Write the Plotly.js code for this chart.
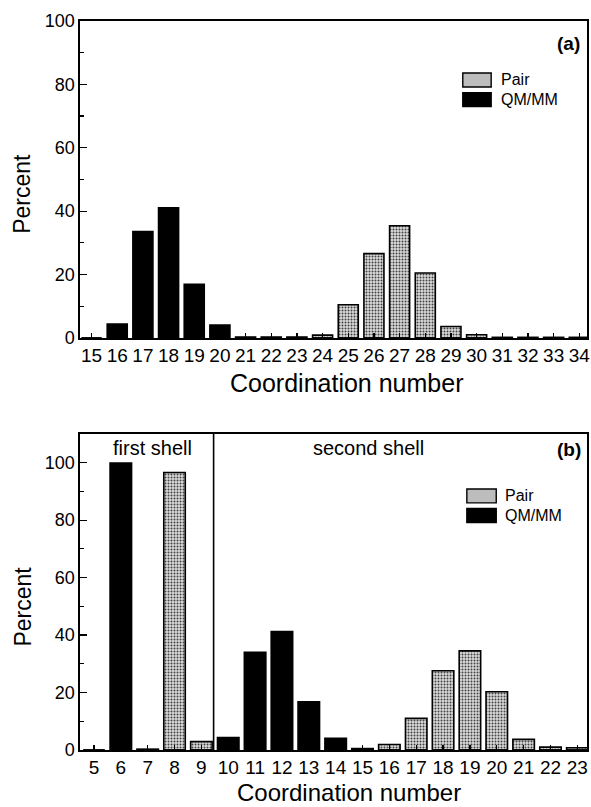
<!DOCTYPE html>
<html>
<head>
<meta charset="utf-8">
<script src="https://cdn.plot.ly/plotly-3.0.1.min.js"></script>
<style>html,body{margin:0;padding:0;background:#fff}#chart{width:591px;height:807px}</style>
</head>
<body>
<div id="chart"></div>
<script>
// Panel (a)
const coordA = [15,16,17,18,19,20,21,22,23,24,25,26,27,28,29,30,31,32,33,34];
const pairA  = [0,0,0,0,0,0,0,0,0,0.9,10.5,26.6,35.4,20.5,3.6,1.0,0.2,0.2,0.2,0.2];
const qmA    = [0,4.4,33.6,41.1,16.9,4.1,0.3,0.3,0.3,0,0,0,0,0,0,0,0,0,0,0];
// Panel (b)
const coordB = [5,6,7,8,9,10,11,12,13,14,15,16,17,18,19,20,21,22,23];
const pairB  = [0,0,0,96.6,2.9,0,0,0,0,0,0,1.9,11.0,27.6,34.5,20.3,3.7,1.0,0.8];
const qmB    = [0,99.9,0.3,0,0,4.3,34.0,41.2,16.8,4.1,0.5,0,0,0,0,0,0,0,0];
const tickA = coordA.map(String);
const tickB = coordB.map(String);
const yTicks = [0,20,40,60,80,100];

const FONT = 'Liberation Sans, Arial, Helvetica, sans-serif';
const grayPattern = {shape: '.', fgcolor: '#404040', bgcolor: '#dcdcdc', size: 3, solidity: 0.35};
const barLine = {color: '#000', width: 1.6};

const traces = [
  {type:'bar', x: coordA, y: pairA, xaxis:'x', yaxis:'y', width:0.78, name:'Pair',
   marker:{color:'#d4d4d4', pattern: grayPattern, line: barLine}},
  {type:'bar', x: coordA, y: qmA, xaxis:'x', yaxis:'y', width:0.78, name:'QM/MM',
   marker:{color:'#000', line: barLine}},
  {type:'bar', x: coordB, y: pairB, xaxis:'x2', yaxis:'y2', width:0.8, name:'Pair',
   marker:{color:'#d4d4d4', pattern: grayPattern, line: barLine}},
  {type:'bar', x: coordB, y: qmB, xaxis:'x2', yaxis:'y2', width:0.8, name:'QM/MM',
   marker:{color:'#000', line: barLine}}
];

const xCommon = {showline:true, linecolor:'#000', linewidth:1.6, mirror:true, showgrid:false, zeroline:false,
  ticks:'inside', ticklen:5, tickwidth:1.2, tickcolor:'#000', tickmode:'array',
  tickfont:{family:FONT, size:19, color:'#000'}};
const yCommon = {showline:true, linecolor:'#000', linewidth:1.6, mirror:true, showgrid:false, zeroline:false,
  ticks:'inside', ticklen:7, tickwidth:1.2, tickcolor:'#000', tickmode:'array', tickvals: yTicks,
  ticktext: yTicks.map(String),
  minor:{ticks:'inside', ticklen:4, tickwidth:1.2, tickcolor:'#000', dtick:10, tick0:0},
  tickfont:{family:FONT, size:18, color:'#000'}};

function legend(xr, yr, x0, x1, xt, yPair, yQm, h) {
  const s = [
    {type:'rect', xref:xr, yref:yr, x0:x0, x1:x1, y0:yPair-h, y1:yPair+h, fillcolor:'#bdbdbd', line:{color:'#000', width:1.4}},
    {type:'rect', xref:xr, yref:yr, x0:x0, x1:x1, y0:yQm-h, y1:yQm+h, fillcolor:'#000', line:{color:'#000', width:1.4}}
  ];
  const a = [
    {xref:xr, yref:yr, x:xt, y:yPair, text:'Pair', showarrow:false, xanchor:'left', yanchor:'middle', font:{family:FONT, size:16, color:'#000'}},
    {xref:xr, yref:yr, x:xt, y:yQm, text:'QM/MM', showarrow:false, xanchor:'left', yanchor:'middle', font:{family:FONT, size:16, color:'#000'}}
  ];
  return {s, a};
}
const legA = legend('x domain', 'y domain', 0.755, 0.811, 0.826, 0.814, 0.752, 0.022);
const legB = legend('x2 domain', 'y2 domain', 0.763, 0.821, 0.834, 0.804, 0.742, 0.022);

const layout = {
  width:591, height:807, paper_bgcolor:'#fff', plot_bgcolor:'#fff',
  margin:{l:80, r:4, t:21, b:57},
  showlegend:false, barmode:'overlay',
  font:{family:FONT, color:'#000'},
  xaxis: Object.assign({}, xCommon, {domain:[0,1], anchor:'y', range:[14.55,34.3], tickvals: coordA, ticktext: tickA}),
  yaxis: Object.assign({}, yCommon, {domain:[0.5652,1], anchor:'x', range:[0,100]}),
  xaxis2: Object.assign({}, xCommon, {domain:[0,1], anchor:'y2', range:[4.48,23.36], tickvals: coordB, ticktext: tickB}),
  yaxis2: Object.assign({}, yCommon, {domain:[0,0.4335], anchor:'x2', range:[0,110]}),
  shapes: [
    {type:'line', xref:'x2', yref:'y2 domain', x0:9.455, x1:9.455, y0:0, y1:1, line:{color:'#000', width:1.6}}
  ].concat(legA.s, legB.s),
  annotations: [
    {xref:'x domain', yref:'y domain', x:0.99, y:0.93, text:'<b>(a)</b>', showarrow:false, xanchor:'right', yanchor:'middle', font:{family:FONT, size:19, color:'#000'}},
    {xref:'x2 domain', yref:'y2 domain', x:0.992, y:0.952, text:'<b>(b)</b>', showarrow:false, xanchor:'right', yanchor:'middle', font:{family:FONT, size:19, color:'#000'}},
    {xref:'x2 domain', yref:'y2 domain', x:0.143, y:0.956, text:'first shell', showarrow:false, xanchor:'center', yanchor:'middle', font:{family:FONT, size:20, color:'#000'}},
    {xref:'x2 domain', yref:'y2 domain', x:0.569, y:0.956, text:'second shell', showarrow:false, xanchor:'center', yanchor:'middle', font:{family:FONT, size:20, color:'#000'}},
    {xref:'x domain', yref:'y domain', x:0.525, y:-0.142, text:'Coordination number', showarrow:false, xanchor:'center', yanchor:'middle', font:{family:FONT, size:25, color:'#000'}},
    {xref:'x2 domain', yref:'y2 domain', x:0.53, y:-0.134, text:'Coordination number', showarrow:false, xanchor:'center', yanchor:'middle', font:{family:FONT, size:24, color:'#000'}},
    {xref:'x domain', yref:'y domain', x:-0.115, y:0.454, text:'Percent', showarrow:false, textangle:-90, xanchor:'center', yanchor:'middle', font:{family:FONT, size:23, color:'#000'}},
    {xref:'x2 domain', yref:'y2 domain', x:-0.113, y:0.453, text:'Percent', showarrow:false, textangle:-90, xanchor:'center', yanchor:'middle', font:{family:FONT, size:23, color:'#000'}}
  ].concat(legA.a, legB.a)
};

Plotly.newPlot('chart', traces, layout, {staticPlot:true, displayModeBar:false});
</script>
</body>
</html>
